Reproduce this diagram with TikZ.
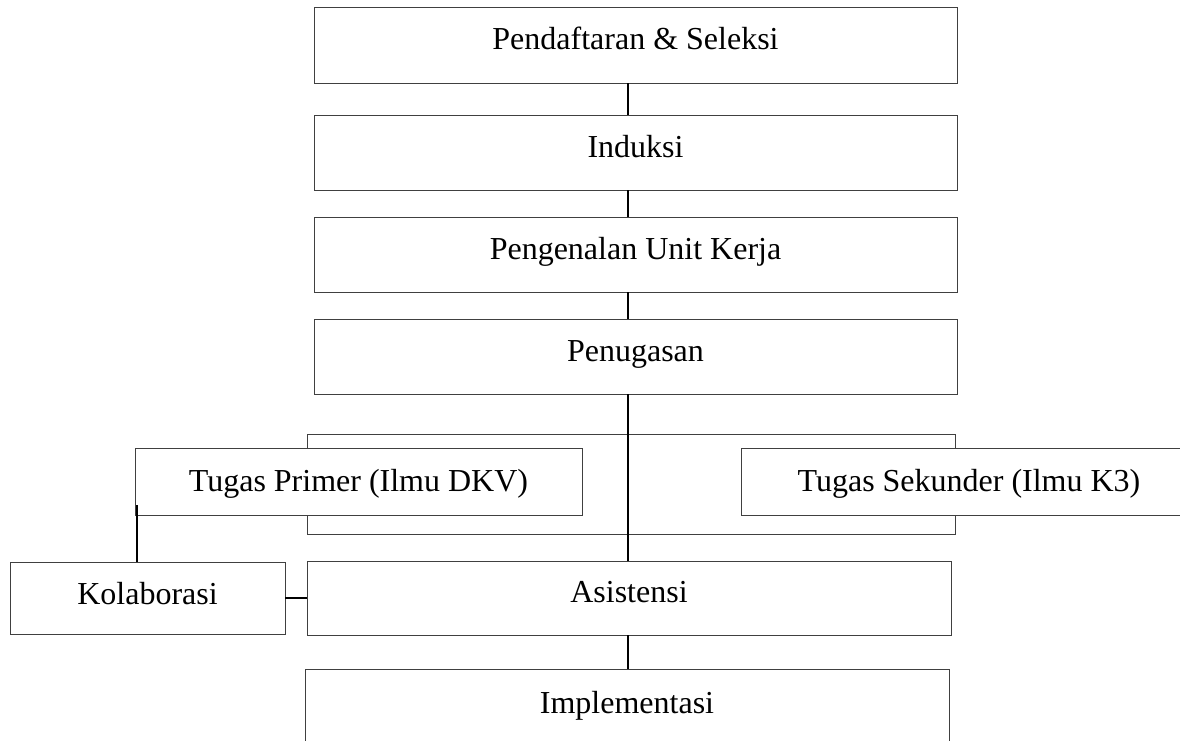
\documentclass[tikz,border=0pt]{standalone}
\usepackage{fontspec}
\setmainfont{Liberation Serif}
\tikzset{
  box/.style={draw=black!75, line width=1pt, fill=white, inner sep=0pt, outer sep=0pt,
    anchor=north west, font=\fontsize{32}{36}\selectfont},
  conn/.style={draw=black, line width=2pt}
}
\begin{document}
\begin{tikzpicture}[x=1pt,y=-1pt]
\useasboundingbox (0,0) rectangle (1180,740);
\clip (0,0) rectangle (1180,740);
\coordinate (spine) at (628,0);
% main column
\node[box, minimum width=643pt, text height=42pt, text depth=34pt] (b1) at (314,7) {Pendaftaran \& Seleksi};
\node[box, minimum width=643pt, text height=42pt, text depth=33pt] (b2) at (314,115) {Induksi};
\node[box, minimum width=643pt, text height=42pt, text depth=33pt] (b3) at (314,217) {Pengenalan Unit Kerja};
\node[box, minimum width=643pt, text height=42pt, text depth=33pt] (b4) at (314,319) {Penugasan};
% back frame of the task group
\node[box, minimum width=648pt, minimum height=100pt] (back) at (307,434) {};
\node[box, minimum width=447pt, text height=43pt, text depth=24pt] (prim) at (135,448) {Tugas Primer (Ilmu DKV)};
\node[box, minimum width=456pt, text height=43pt, text depth=24pt] (sek) at (741,448) {Tugas Sekunder (Ilmu K3)};
\node[box, minimum width=275pt, text height=42pt, text depth=30pt] (kol) at (10,562) {Kolaborasi};
\node[box, minimum width=644pt, text height=41pt, text depth=33pt] (asis) at (307,561) {Asistensi};
\node[box, minimum width=644pt, text height=44pt, text depth=49pt] (impl) at (305,669) {Implementasi};
% connectors
\draw[conn] (b1.south -| spine) -- (b2.north -| spine);
\draw[conn] (b2.south -| spine) -- (b3.north -| spine);
\draw[conn] (b3.south -| spine) -- (b4.north -| spine);
\draw[conn] (b4.south -| spine) -- (asis.north -| spine);
\draw[conn] (asis.south -| spine) -- (impl.north -| spine);
\draw[conn] ([xshift=1.5pt,yshift=10pt]prim.south west) -- ([xshift=1.5pt]prim.south west |- kol.north);
\draw[conn] (kol.east) -- (kol.east -| asis.west);
\end{tikzpicture}
\end{document}
